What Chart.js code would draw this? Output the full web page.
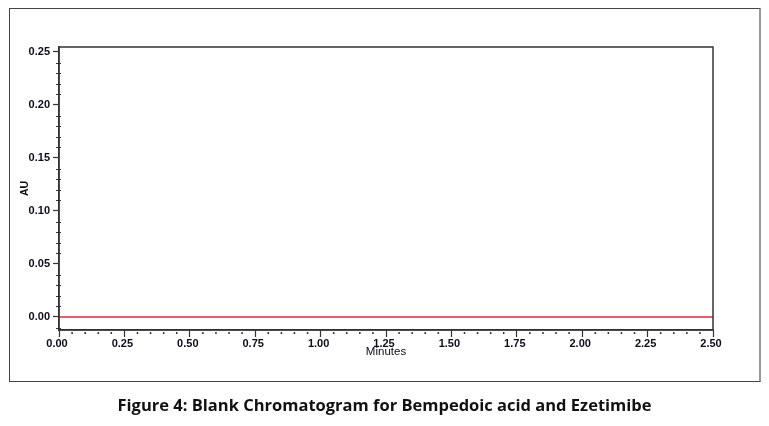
<!DOCTYPE html>
<html>
<head>
<meta charset="utf-8">
<script src="https://cdn.jsdelivr.net/npm/chart.js@4/dist/chart.umd.min.js"></script>
<style>
  html, body { margin: 0; padding: 0; background: #fff; }
  body { width: 769px; height: 426px; position: relative; overflow: hidden; }
  #chart { position: absolute; left: 0; top: 0; }
  .frame {
    position: absolute; left: 9px; top: 8px; width: 749px; height: 372px;
    border: 1px solid #444; border-right: 2px solid #999;
  }
  .caption {
    position: absolute; left: 0; width: 769px; top: 393px; text-align: center;
    font-family: "Open Sans", Lato, sans-serif; font-weight: bold; font-size: 16.5px; color: #111;
  }
</style>
</head>
<body>
<div class="frame"></div>
<canvas id="chart" width="769" height="426"></canvas>
<div class="caption">Figure 4: Blank Chromatogram for Bempedoic acid and Ezetimibe</div>
<script>
// data
const times = [0, 2.5];            // minutes
const absorbance = [0, 0];         // AU, blank run: flat baseline
const xTicks = [0, 0.25, 0.5, 0.75, 1, 1.25, 1.5, 1.75, 2, 2.25, 2.5];
const yTicks = [0, 0.05, 0.1, 0.15, 0.2, 0.25];

const textColor = '#0d0d1a';
const axisColor = '#333';
const labelFont = 'Arial, "Liberation Sans", sans-serif';

// plot box + minor ticks, like the instrument software draws them
const framePlugin = {
  id: 'framePlugin',
  afterDraw(chart) {
    const { ctx, chartArea: a, scales: { x, y } } = chart;
    ctx.save();
    ctx.strokeStyle = axisColor;
    ctx.lineWidth = 1.5;
    ctx.strokeRect(a.left, a.top, a.right - a.left, a.bottom - a.top);

    ctx.lineWidth = 1.2;
    ctx.beginPath();
    for (let v = Math.ceil(y.min * 100); v <= Math.floor(y.max * 100); v++) {
      if (v % 5 === 0) continue;
      const py = Math.round(y.getPixelForValue(v / 100)) + 0.5;
      ctx.moveTo(a.left - 3, py);
      ctx.lineTo(a.left + 2, py);
    }
    ctx.stroke();

    ctx.lineWidth = 1.5;
    ctx.beginPath();
    for (let v = 0; v <= 50; v++) {
      if (v % 5 === 0) continue;
      const px = x.getPixelForValue(v * 0.05);
      ctx.moveTo(px, a.bottom + 2);
      ctx.lineTo(px, a.bottom + 4);
    }
    ctx.stroke();
    ctx.restore();
  }
};

new Chart(document.getElementById('chart'), {
  type: 'line',
  data: {
    datasets: [{
      data: times.map((t, i) => ({ x: t, y: absorbance[i] })),
      borderColor: '#e8242b',
      borderWidth: 1.5,
      pointRadius: 0,
      fill: false
    }]
  },
  options: {
    responsive: false,
    animation: false,
    layout: { padding: { top: 47, right: 56, left: 0, bottom: 0 } },
    plugins: { legend: { display: false }, tooltip: { enabled: false } },
    scales: {
      x: {
        type: 'linear',
        min: 0,
        max: 2.5,
        afterBuildTicks: s => { s.ticks = xTicks.map(v => ({ value: v })); },
        afterFit: s => { s.height = 96; },
        border: { color: axisColor, width: 1.5 },
        grid: { drawOnChartArea: false, tickLength: 7, color: axisColor, tickWidth: 1.2 },
        ticks: {
          color: textColor, padding: 0, maxRotation: 0, labelOffset: -2,
          font: { family: labelFont, size: 11, weight: 'bold' },
          callback: v => v.toFixed(2)
        },
        title: {
          display: true, text: 'Minutes', color: textColor,
          font: { family: labelFont, size: 11.5 },
          padding: { top: 0, bottom: 67 }
        }
      },
      y: {
        min: -0.0123,
        max: 0.2547,
        afterBuildTicks: s => { s.ticks = yTicks.map(v => ({ value: v })); },
        afterFit: s => { s.width = 59; },
        border: { color: axisColor, width: 1.5 },
        grid: { drawOnChartArea: false, tickLength: 6, color: axisColor, tickWidth: 1.2 },
        ticks: {
          color: textColor, padding: 3,
          font: { family: labelFont, size: 11, weight: 'bold' },
          callback: v => v.toFixed(2)
        },
        title: {
          display: true, text: 'AU', color: textColor,
          font: { family: labelFont, size: 10.5, weight: 'bold' },
          padding: { top: 19, bottom: 0 }
        }
      }
    }
  },
  plugins: [framePlugin]
});
</script>
</body>
</html>
